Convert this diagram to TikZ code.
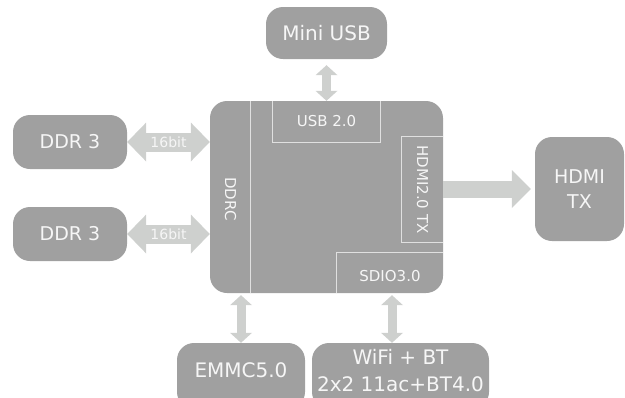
\documentclass[tikz,border=0pt]{standalone}
\usepackage{fontspec}
\setmainfont{DejaVu Sans}
\usetikzlibrary{arrows.meta}
\definecolor{boxgray}{RGB}{160,160,160}
\definecolor{arrowgray}{RGB}{206,208,206}
\definecolor{linegray}{RGB}{224,224,224}
\definecolor{txt}{RGB}{246,246,246}

\begin{document}
\begin{tikzpicture}[x=1pt,y=-1pt,
  devbox/.style={fill=boxgray, rounded corners=17pt, text=txt, align=center, inner sep=0pt, font=\fontsize{19}{25}\selectfont},
  lbl/.style={text=txt, align=center, inner sep=0pt, font=\fontsize{20}{27}\selectfont},
  inlbl/.style={text=txt, inner sep=0pt, font=\fontsize{15}{18}\selectfont},
  inline/.style={draw=linegray, line width=1pt},
  widearrow/.style={draw=arrowgray, line width=19pt, {Triangle[length=19pt,width=39pt,line width'=0pt]}-{Triangle[length=19pt,width=39pt,line width'=0pt]}},
  thinarrow/.style={draw=arrowgray, line width=9pt, {Triangle[length=10pt,width=22pt,line width'=0pt]}-{Triangle[length=10pt,width=22pt,line width'=0pt]}},
  hdmiarrow/.style={draw=arrowgray, line width=17pt, -{Triangle[length=19pt,width=38pt,line width'=0pt]}}]
\useasboundingbox (0,0) rectangle (625,397);
\clip (0,0) rectangle (625,397);

% le SoC
\node[devbox, minimum width=233pt, minimum height=192pt] (chip) at (326.5,197) {};
\draw[inline] ([xshift=41pt]chip.north west) -- ([xshift=41pt]chip.south west);
\node[inlbl, rotate=-90] (ddrc) at (230.5,199) {DDRC};
\node[inlbl, minimum width=107pt, minimum height=41pt] (usbif) at (326.5,121.5) {USB 2.0};
\draw[inline] (usbif.north west) -- (usbif.south west) -- (usbif.south east) -- (usbif.north east);
\node[inlbl, minimum width=41pt, minimum height=105pt] (hdmiif) at (422.5,189.5) {\rotatebox{-90}{HDMI2.0 TX}};
\draw[inline] (hdmiif.north east) -- (hdmiif.north west) -- (hdmiif.south west) -- (hdmiif.south east);
\node[inlbl, minimum width=106pt, minimum height=40pt] (sdioif) at (390,273) {};
\node[inlbl] (sdiolbl) at (390,276) {SDIO3.0};
\draw[inline] (sdioif.south west) -- (sdioif.north west) -- (sdioif.north east);

% les peripheriques
\node[devbox, minimum width=121pt, minimum height=52pt, font=\fontsize{20}{25}\selectfont] (minusb) at (326.5,33) {Mini USB};
\node[devbox, minimum width=114pt, minimum height=54pt] (ddr1) at (70,142) {DDR 3};
\node[devbox, minimum width=114pt, minimum height=54pt] (ddr2) at (70,234) {DDR 3};
\node[devbox, minimum width=89pt, minimum height=104pt] (hdmitx) at (579.5,189) {HDMI\\TX};
\node[devbox, minimum width=128pt, minimum height=66pt] (emmc) at (241,376) {};
\node[lbl] (emmclbl) at (241,370) {EMMC5.0};
\node[devbox, minimum width=177pt, minimum height=66pt] (wifi) at (400.5,376) {};
\node[lbl] (wifilbl) at (400.5,371) {WiFi + BT\\2x2 11ac+BT4.0};

% les liaisons
\draw[widearrow] (ddr1.east) -- (ddr1.east -| chip.west) node[midway, inlbl, font=\fontsize{14}{16}\selectfont] {16bit};
\draw[widearrow] (ddr2.east) -- (ddr2.east -| chip.west) node[midway, inlbl, font=\fontsize{14}{16}\selectfont] {16bit};
\draw[thinarrow] ([yshift=-6pt]minusb.south) -- (chip.north);
\draw[hdmiarrow] (chip.east |- hdmitx.west) -- ([xshift=-4pt]hdmitx.west);
\draw[thinarrow, shorten <=2pt] (emmc.north |- chip.south) -- (emmc.north);
\draw[thinarrow, shorten <=2pt] ([xshift=-8.5pt]wifi.north |- chip.south) -- ([xshift=-8.5pt]wifi.north);
\end{tikzpicture}
\end{document}
